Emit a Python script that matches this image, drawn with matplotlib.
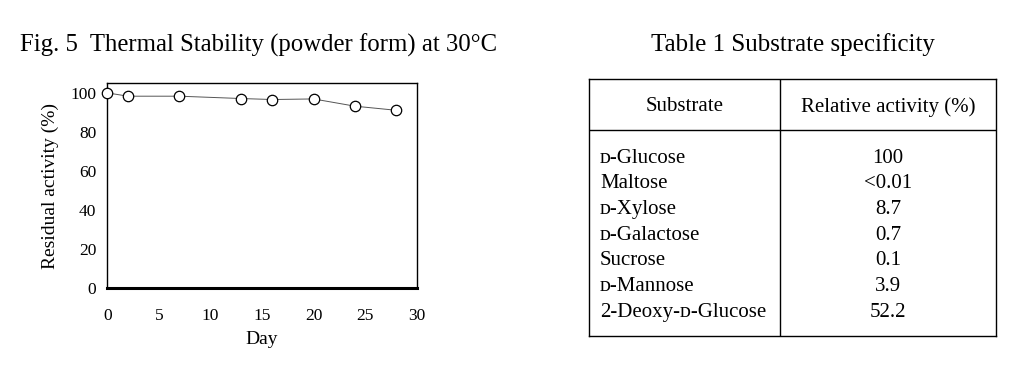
import matplotlib
matplotlib.use("Agg")
import matplotlib.pyplot as plt

plt.rcParams['font.family'] = ['Liberation Serif', 'DejaVu Serif']

# Fig. 5 data
days = [0, 2, 7, 13, 16, 20, 24, 28]
residual = [100, 98.3, 98.3, 97.1, 96.6, 96.9, 93.2, 91.1]
x_ticks = [0, 5, 10, 15, 20, 25, 30]
y_ticks = [0, 20, 40, 60, 80, 100]

# Table 1 data
substrates = ["ᴅ-Glucose", "Maltose", "ᴅ-Xylose", "ᴅ-Galactose",
              "Sucrose", "ᴅ-Mannose", "2-Deoxy-ᴅ-Glucose"]
activity = ["100", "<0.01", "8.7", "0.7", "0.1", "3.9", "52.2"]
headers = ["Substrate", "Relative activity (%)"]

W, H = 1021, 373
fig = plt.figure(figsize=(W / 100, H / 100), dpi=100)

# --- chart ---
ax = fig.add_axes([107.3 / W, 1 - 288.3 / H, 309.4 / W, 205 / H])
ax.plot(days, residual, color='#555555', lw=0.7, marker='o', ms=7.5,
        mfc='white', mec='black', mew=0.9, clip_on=False, zorder=3)
ax.set_xlim(0, 30)
ax.set_ylim(0, 104.9)
ax.set_xticks(x_ticks)
ax.set_yticks(y_ticks)
ax.tick_params(length=0, labelsize=12.5)
ax.tick_params(axis='x', pad=14)
ax.tick_params(axis='y', pad=8)
for s in ['top', 'right', 'left']:
    ax.spines[s].set_linewidth(1.0)
ax.spines['bottom'].set_linewidth(2.2)
ax.set_xlabel("Day", fontsize=14, labelpad=5)
ax.set_ylabel("Residual activity (%)", fontsize=14, labelpad=8)

fig.text(20 / W, 1 - 45 / H, "Fig. 5  Thermal Stability (powder form) at 30°C",
         fontsize=17.8, ha='left', va='center')

# --- table ---
tx = fig.add_axes([589 / W, 1 - 336 / H, 407 / W, 257 / H])
tx.set_xlim(0, 1)
tx.set_ylim(10, 0)
tx.set_xticks([])
tx.set_yticks([])
for s in tx.spines.values():
    s.set_linewidth(1.0)
col_split = 0.47
tx.axvline(col_split, color='black', lw=1.0)
tx.axhline(2, color='black', lw=1.0)
off = 0.08  # small nudge down so text sits like the original
tx.text(col_split / 2, 1 + off, headers[0], ha='center', va='center', fontsize=15)
tx.text((1 + col_split) / 2, 1 + off, headers[1], ha='center', va='center', fontsize=15)
for i, (name, val) in enumerate(zip(substrates, activity)):
    tx.text(0.027, 3 + i + off, name, ha='left', va='center', fontsize=15)
    tx.text(0.735, 3 + i + off, val, ha='center', va='center', fontsize=15)

fig.text(793 / W, 1 - 45 / H, "Table 1 Substrate specificity",
         fontsize=18, ha='center', va='center')

fig.savefig("out.png", dpi=100)
